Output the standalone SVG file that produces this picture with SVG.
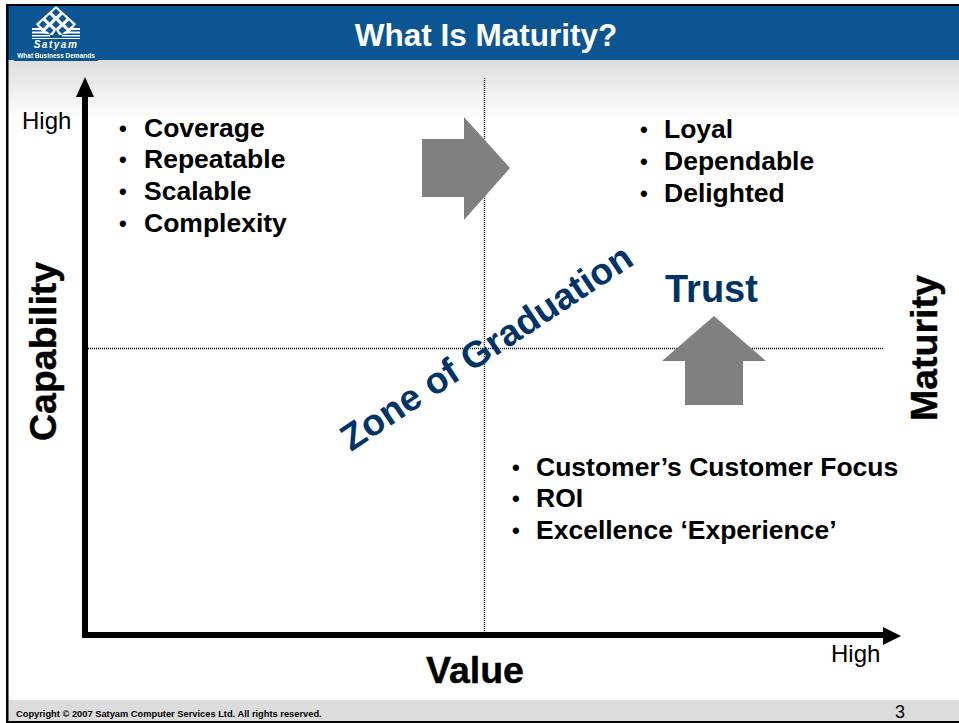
<svg xmlns="http://www.w3.org/2000/svg" width="959" height="723" viewBox="0 0 959 723">
<style>
text{font-family:"Liberation Sans",Arial,sans-serif;fill:#000}
.b{font-weight:700}
.l{font-size:26.500px;font-weight:700}
.d{font-size:22px;font-weight:700}
.h{font-size:24px}
.ax{font-size:37.500px;font-weight:700;stroke:#000;stroke-width:.4px}
.dot{stroke:#000;stroke-width:1.400;stroke-dasharray:1 1;fill:none}
.arr{fill:#808080}
.navy{fill:#003366;font-weight:700}
</style>
<defs>
<linearGradient id="g" x1="0" y1="0" x2="0" y2="1"><stop offset="0" stop-color="#dddddd"/><stop offset="1" stop-color="#ffffff"/></linearGradient>
</defs>
<rect width="959" height="723" fill="#fff"/>
<g id="frame">
<rect x="8" y="60" width="951" height="60" fill="url(#g)"/>
<rect x="8" y="5" width="951" height="55" fill="#0a5592"/>
<rect x="14" y="60" width="84" height="1" fill="#0a5592"/>
<rect x="8" y="700" width="951" height="21" fill="#dcdcdc"/>
<rect x="0" y="0" width="6" height="723" fill="#fff"/>
<rect x="6" y="4" width="953" height="2" fill="#000"/>
<rect x="6" y="4" width="2.500" height="719" fill="#000"/>
<rect x="6" y="721" width="953" height="2" fill="#000"/>
</g>
<g id="logo">
<polygon points="56,6 76,24 69,33 56,36 43,33 36,24" fill="#fff"/>
<path d="M56 8.500l4 4-4 4-4-4zM49.500 14.500l4 4-4 4-4-4zM62.500 14.500l4 4-4 4-4-4zM43 20.500l4 4-4 4-4-4zM56 20.500l4 4-4 4-4-4zM69 20.500l4 4-4 4-4-4zM49.500 26.500l4 4-4 4-4-4zM62.500 26.500l4 4-4 4-4-4z" fill="#0a5592"/>
<path d="M56 30l5 8h-10z" fill="#0a5592"/>
<path d="M32 28h9l4 2h-13zM71 28h9v2h-13zM32 31.500h15l3 2h-18zM65 31.500h15v2h-18zM32 35h18v1.500h-18zM62 35h18v1.500h-18zM32 38h48v1h-48z" fill="#fff"/>
<text x="56" y="48" text-anchor="middle" font-size="10" font-weight="700" font-style="italic" style="fill:#fff;letter-spacing:1.500px">Satyam</text>
<text x="56" y="58" text-anchor="middle" font-size="6.500" font-weight="700" style="fill:#fff">What Business Demands</text>
</g>
<g id="title"><text x="486" y="46" text-anchor="middle" font-size="31.500" class="b" style="fill:#fff">What Is Maturity?</text></g>
<g id="connectors">
<path class="dot" d="M484.500 78V636"/>
<path class="dot" d="M86 348.500H884"/>
<path d="M85 634V97" stroke="#000" stroke-width="6" fill="none"/>
<polygon points="85,77 94,97 76,97" fill="#000"/>
<path d="M82 635H884" stroke="#000" stroke-width="6" fill="none"/>
<polygon points="901,636 883,627 883,645" fill="#000"/>
</g>
<g id="arrow-right"><polygon class="arr" points="422,139 464,139 464,117 510,168 464,220 464,197 422,197"/></g>
<g id="arrow-up"><polygon class="arr" points="714,316 766,361 743,361 743,405 685,405 685,361 662,361"/></g>
<g id="labels-axes">
<text class="h" x="22" y="129">High</text>
<text class="h" x="831" y="662">High</text>
<text class="ax" transform="translate(56 441) rotate(-90)">Capability</text>
<text class="ax" transform="translate(937 421) rotate(-90)">Maturity</text>
<text class="ax" x="426" y="683">Value</text>
</g>
<g id="list-capability">
<text class="d" x="119" y="136">•</text><text class="l" x="144" y="137">Coverage</text>
<text class="d" x="119" y="167">•</text><text class="l" x="144" y="168">Repeatable</text>
<text class="d" x="119" y="199">•</text><text class="l" x="144" y="200">Scalable</text>
<text class="d" x="119" y="231">•</text><text class="l" x="144" y="232">Complexity</text>
</g>
<g id="list-trust">
<text class="d" x="640" y="137">•</text><text class="l" x="664" y="138">Loyal</text>
<text class="d" x="640" y="169">•</text><text class="l" x="664" y="170">Dependable</text>
<text class="d" x="640" y="201">•</text><text class="l" x="664" y="202">Delighted</text>
</g>
<g id="list-value">
<text class="d" x="512" y="475">•</text><text class="l" x="536" y="476">Customer’s Customer Focus</text>
<text class="d" x="512" y="506">•</text><text class="l" x="536" y="507">ROI</text>
<text class="d" x="512" y="538">•</text><text class="l" x="536" y="539">Excellence ‘Experience’</text>
</g>
<g id="trust"><text class="navy" x="665" y="302" font-size="38">Trust</text></g>
<g id="zone"><text class="navy" transform="translate(351 452) rotate(-33.500)" font-size="37">Zone of Graduation</text></g>
<g id="footer">
<text x="16" y="717" font-size="9.300" class="b">Copyright © 2007 Satyam Computer Services Ltd. All rights reserved.</text>
<text x="895" y="718" font-size="18">3</text>
</g>
</svg>
